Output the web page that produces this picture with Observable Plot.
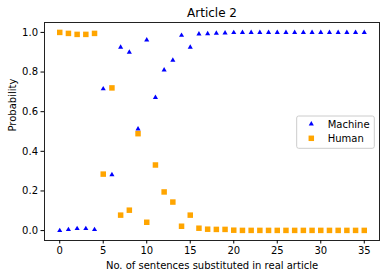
<!DOCTYPE html>
<html>
<head>
<meta charset="utf-8">
<script src="https://cdn.jsdelivr.net/npm/d3@7"></script>
<script src="https://cdn.jsdelivr.net/npm/@observablehq/plot@0.6"></script>
<style>
  html, body { margin: 0; padding: 0; background: white; }
  svg { display: block; }
</style>
</head>
<body>
<div id="chart"></div>
<script>
const titleText = "Article 2";
const xLabelText = "No. of sentences substituted in real article";
const yLabelText = "Probability";
const seriesNames = ["Machine", "Human"];
const seriesColors = ["blue", "orange"];

const sentences = [0, 1, 2, 3, 4, 5, 6, 7, 8, 9, 10, 11, 12, 13, 14, 15, 16, 17,
  18, 19, 20, 21, 22, 23, 24, 25, 26, 27, 28, 29, 30, 31, 32, 33, 34, 35];
const machine = [0.0, 0.005, 0.01, 0.01, 0.005, 0.715, 0.282, 0.925, 0.90, 0.513,
  0.962, 0.672, 0.81, 0.86, 0.985, 0.925, 0.992, 0.993, 0.996, 0.997,
  0.999, 1.0, 1.0, 1.0, 1.0, 1.0, 1.0, 1.0, 1.0, 1.0, 1.0, 1.0, 1.0, 1.0, 1.0, 1.0];
const human = [1.0, 0.995, 0.99, 0.99, 0.995, 0.285, 0.72, 0.078, 0.103, 0.489,
  0.042, 0.331, 0.195, 0.144, 0.022, 0.078, 0.012, 0.007, 0.006, 0.006,
  0.002, 0.001, 0.001, 0.001, 0.001, 0.001, 0.001, 0.001, 0.001, 0.001, 0.001, 0.001, 0.001, 0.001, 0.001, 0.001];

const xTicks = [0, 5, 10, 15, 20, 25, 30, 35];
const yTicks = [0.0, 0.2, 0.4, 0.6, 0.8, 1.0];

const rows = sentences.map((n, i) => ({n, machine: machine[i], human: human[i]}));

const font = "DejaVu Sans, sans-serif";

const chart = Plot.plot({
  width: 386,
  height: 278,
  marginLeft: 44,
  marginRight: 7,
  marginTop: 22,
  marginBottom: 38,
  style: {fontFamily: font, fontSize: "10px", background: "white", color: "black"},
  x: {domain: [-1.75, 36.75]},
  y: {domain: [-0.05, 1.05]},
  marks: [
    Plot.frame({stroke: "#222", strokeWidth: 1}),
    Plot.axisX(xTicks, {tickSize: 3.5, tickPadding: 3, label: null, fontSize: 10}),
    Plot.axisY(yTicks, {tickSize: 3.5, tickPadding: 3, label: null, fontSize: 10, tickFormat: d3.format(".1f")}),
    Plot.dot(rows, {x: "n", y: "machine", symbol: "triangle", r: 1.9, fill: seriesColors[0], stroke: null}),
    Plot.dot(rows, {x: "n", y: "human", symbol: "square", r: 3.1, fill: seriesColors[1], stroke: null}),
    Plot.text([titleText], {text: d => d, frameAnchor: "top", dy: -6, lineAnchor: "bottom", fontSize: 12}),
    Plot.text([xLabelText], {text: d => d, frameAnchor: "bottom", dy: 25.5, lineAnchor: "middle", fontSize: 10}),
    Plot.text([yLabelText], {text: d => d, frameAnchor: "left", dx: -31.5, rotate: -90, lineAnchor: "middle", fontSize: 10})
  ]
});

// Legend (matplotlib-style box inside the axes)
const svg = d3.select(chart);
const lg = svg.append("g").attr("font-family", font).attr("font-size", 10).attr("text-anchor", "start");
lg.append("rect")
  .attr("x", 296.7).attr("y", 116).attr("width", 77.6).attr("height", 32.3)
  .attr("rx", 2).attr("fill", "white").attr("fill-opacity", 0.8)
  .attr("stroke", "#cccccc").attr("stroke-width", 1);
const symbols = [d3.symbol(d3.symbolTriangle, 1.9 * 1.9 * Math.PI), d3.symbol(d3.symbolSquare, 3.1 * 3.1 * Math.PI)];
seriesNames.forEach((name, i) => {
  const cy = 124 + i * 14.3;
  lg.append("path").attr("d", symbols[i]()).attr("transform", `translate(311.3,${cy})`).attr("fill", seriesColors[i]);
  lg.append("text").attr("x", 327.7).attr("y", cy).attr("dy", "0.35em").attr("text-anchor", "start").attr("fill", "black").text(name);
});

document.getElementById("chart").appendChild(chart);
</script>
</body>
</html>
